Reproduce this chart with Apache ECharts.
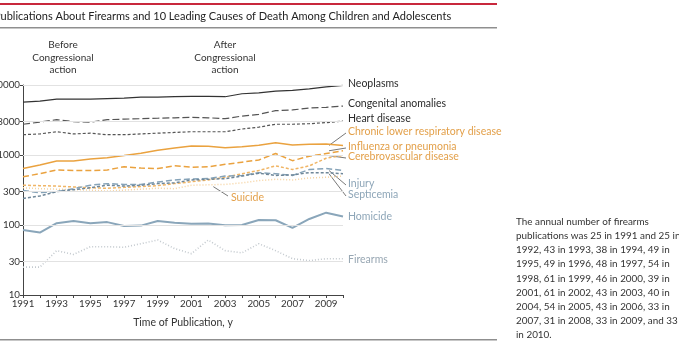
<!DOCTYPE html>
<html><head><meta charset="utf-8">
<script src="https://cdn.jsdelivr.net/npm/echarts@6/dist/echarts.min.js"></script>
<style>html,body{margin:0;padding:0;background:#fff}#c{width:679px;height:361px}</style>
</head><body><div id="c"></div>
<script>
var years = [1991,1992,1993,1994,1995,1996,1997,1998,1999,2000,2001,2002,2003,2004,2005,2006,2007,2008,2009,2010];
var neoplasms   = [5700,5900,6300,6300,6300,6400,6500,6700,6700,6800,6900,6900,6800,7500,7700,8200,8400,8800,9400,9900];
var congenital  = [2750,2950,3200,3000,2950,3200,3250,3300,3350,3400,3450,3400,3300,3600,3800,4300,4400,4700,4800,5000];
var heart       = [1950,2000,2150,2000,2050,1950,1950,2000,2050,2100,2150,2150,2150,2350,2500,2750,2750,2800,2900,3050];
var chronic     = [640,720,820,820,880,915,980,1060,1170,1260,1340,1330,1270,1310,1380,1500,1390,1420,1440,1370];
var influenza   = [490,540,610,600,600,610,680,650,640,700,670,680,735,790,850,1050,830,960,1050,1150];
var cerebro     = [370,365,360,350,340,335,345,355,365,390,415,440,480,540,600,700,620,700,900,980];
var suicide     = [340,330,325,320,315,305,315,325,335,330,370,375,380,400,430,450,440,470,480,500];
var injury      = [310,290,300,330,370,390,380,380,410,440,455,460,500,510,560,540,510,620,640,600];
var septicemia  = [240,260,300,320,340,370,360,370,390,400,440,450,460,500,550,510,520,560,560,540];
var homicide    = [85,78,106,114,106,110,97,98,114,108,104,105,99,100,118,117,91,122,150,132];
var firearms    = [25,25,43,38,49,49,48,54,61,46,39,61,43,40,54,43,33,31,33,33];
var yTicks = [10,30,100,300,1000,3000,10000];
var xLabelYears = [1991,1993,1995,1997,1999,2001,2003,2005,2007,2009];

var FONT = "Lato,'Open Sans',sans-serif";
function pairs(arr){ return years.map(function(y,i){ return [y, arr[i]]; }); }

var defs = [
  {name:'Neoplasms', data:neoplasms, color:'#333333', type:'solid', w:1.2, label:'#2b2b2b', ly:84},
  {name:'Congenital anomalies', data:congenital, color:'#555555', type:[7,3], w:1.2, label:'#2b2b2b', ly:104},
  {name:'Heart disease', data:heart, color:'#555555', type:[3,2], w:1.2, label:'#2b2b2b', ly:119},
  {name:'Chronic lower respiratory disease', data:chronic, color:'#eaa23f', type:'solid', w:1.5, label:'#e3a04a', ly:132, leader:true},
  {name:'Influenza or pneumonia', data:influenza, color:'#eaa23f', type:[6,3], w:1.5, label:'#e3a04a', ly:147, leader:true},
  {name:'Cerebrovascular disease', data:cerebro, color:'#f0b565', type:[3,2], w:1.5, label:'#e3a04a', ly:157, leader:true},
  {name:'Suicide', data:suicide, color:'#f6d29e', type:[1,2], w:1.5, label:'#e3a04a', ly:null},
  {name:'Injury', data:injury, color:'#86a3b8', type:[6,3], w:1.5, label:'#8ea6b8', ly:184, leader:true},
  {name:'Septicemia', data:septicemia, color:'#6f8799', type:[3,2], w:1.5, label:'#8ea6b8', ly:195, leader:true},
  {name:'Homicide', data:homicide, color:'#8aa6ba', type:'solid', w:2, label:'#8ea6b8', ly:217},
  {name:'Firearms', data:firearms, color:'#c4cacf', type:[1,2], w:1.6, label:'#98a7b3', ly:260}
];

var series = defs.map(function(d){
  return {type:'line', name:d.name, data:pairs(d.data), showSymbol:false, silent:true, z:3,
    lineStyle:{color:d.color, width:d.w, type:d.type}};
});
series.push({type:'line', data:[], silent:true, z:1,
  markLine:{silent:true, symbol:'none', label:{show:false},
    lineStyle:{color:'#e2e2e2', width:1, type:'solid'},
    data:yTicks.slice(1).map(function(v){ return {yAxis:v}; })}});

var chart = echarts.init(document.getElementById('c'));
chart.setOption({
  animation:false,
  grid:{left:23, right:336, top:85, bottom:66, containLabel:false, outerBoundsMode:'none'},
  xAxis:{type:'value', min:1991, max:2010, interval:1,
    axisLine:{lineStyle:{color:'#444', width:1}},
    axisTick:{show:true, length:3, lineStyle:{color:'#444'}},
    splitLine:{show:false},
    axisLabel:{color:'#333', fontSize:9.8, fontFamily:FONT, margin:4,
      formatter:function(v){ return xLabelYears.indexOf(v)>=0 ? String(v) : ''; }},
    name:'Time of Publication, y', nameLocation:'middle', nameGap:22,
    nameTextStyle:{color:'#333', fontSize:10.5, fontFamily:FONT}},
  yAxis:{type:'log', logBase:10, min:10, max:10000,
    axisLine:{show:true, lineStyle:{color:'#444', width:1}},
    axisTick:{show:true, length:3, customValues:yTicks, lineStyle:{color:'#444'}},
    splitLine:{show:false},
    axisLabel:{color:'#333', fontSize:9.8, fontFamily:FONT, margin:3, customValues:yTicks,
      formatter:function(v){ return String(v); }}},
  series:series
});

var g = [];
function px(year, v){ return chart.convertToPixel({gridIndex:0}, [year, v]); }
g.push({type:'rect', shape:{x:0,y:3,width:497,height:2}, style:{fill:'#c8283c'}, silent:true});
g.push({type:'rect', shape:{x:0,y:27,width:497,height:1.5}, style:{fill:'#8f8f8f'}, silent:true});
g.push({type:'rect', shape:{x:0,y:339,width:497,height:1.5}, style:{fill:'#8f8f8f'}, silent:true});
g.push({type:'text', x:-6, y:16, style:{text:'Publications About Firearms and 10 Leading Causes of Death Among Children and Adolescents',
  font:'11px '+FONT, fill:'#222', verticalAlign:'middle'}});
var top = px(1996, 10000), bot = px(1996, 10);
g.push({type:'line', shape:{x1:top[0], y1:40, x2:bot[0], y2:bot[1]}, style:{stroke:'#999', lineWidth:1, lineDash:[1,1.5]}, silent:true});
var before = ['Before','Congressional','action'], after = ['After','Congressional','action'];
before.forEach(function(t,i){ g.push({type:'text', x:63, y:45+i*12.5, style:{text:t, font:'10px '+FONT, fill:'#333', align:'center', verticalAlign:'middle'}}); });
after.forEach(function(t,i){ g.push({type:'text', x:225, y:45+i*12.5, style:{text:t, font:'10px '+FONT, fill:'#333', align:'center', verticalAlign:'middle'}}); });

defs.forEach(function(d){
  if (d.ly == null) return;
  var e = px(2010, d.data[d.data.length-1]);
  if (d.leader) {
    g.push({type:'line', shape:{x1:e[0]-14, y1:e[1], x2:346, y2:d.ly+1}, style:{stroke:'#555', lineWidth:0.8}, silent:true});
  }
  g.push({type:'text', x:348, y:d.ly, style:{text:d.name, font:'10.5px '+FONT, fill:d.label, verticalAlign:'middle'}});
});
var s = px(2002.3, 365);
g.push({type:'line', shape:{x1:s[0], y1:s[1]+1, x2:228, y2:196}, style:{stroke:'#555', lineWidth:0.8}, silent:true});
g.push({type:'text', x:231, y:198, style:{text:'Suicide', font:'10.5px '+FONT, fill:'#e3a04a', verticalAlign:'middle'}});

var note = ['The annual number of firearms','publications was 25 in 1991 and 25 in','1992, 43 in 1993, 38 in 1994, 49 in',
  '1995, 49 in 1996, 48 in 1997, 54 in','1998, 61 in 1999, 46 in 2000, 39 in','2001, 61 in 2002, 43 in 2003, 40 in',
  '2004, 54 in 2005, 43 in 2006, 33 in','2007, 31 in 2008, 33 in 2009, and 33','in 2010.'];
note.forEach(function(t,i){ g.push({type:'text', x:516, y:222+i*14.1, style:{text:t, font:'9.9px '+FONT, fill:'#333', verticalAlign:'middle'}}); });
chart.setOption({graphic:g});
</script></body></html>
